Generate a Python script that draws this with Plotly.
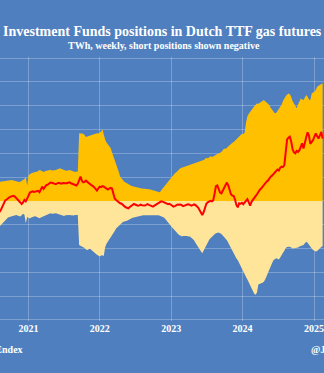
import pandas as pd
import plotly.graph_objects as go

# Weekly report dates (Fridays)
weeks = pd.date_range("2020-07-31", periods=238, freq="7D")

# Year ticks along the time axis
year_ticks = ["2021-01-01", "2022-01-01", "2023-01-01", "2024-01-01", "2025-01-01"]
year_labels = ["2021", "2022", "2023", "2024", "2025"]

# Investment funds long positions, TWh
long_twh = [
    80, 81, 83, 82, 84, 85, 84, 86, 88, 87,
    88, 86, 84, 82, 80, 79, 80, 84, 89, 92,
    100, 64, 108, 113, 116, 118, 119, 121, 123, 126,
    130, 128, 124, 122, 125, 127, 126, 129, 131, 128,
    127, 129, 130, 132, 135, 137, 134, 131, 129, 128,
    127, 129, 130, 128, 125, 123, 122, 124, 123, 284,
    283, 281, 282, 276, 269, 271, 273, 274, 275, 277,
    279, 281, 284, 283, 287, 291, 301, 275, 258, 245,
    238, 232, 222, 205, 190, 175, 158, 140, 122, 102,
    94, 87, 81, 77, 73, 70, 67, 64, 62, 60,
    58, 57, 55, 54, 53, 52, 52, 51, 50, 49,
    49, 48, 47, 46, 45, 44, 40, 37, 36, 45,
    52, 58, 66, 75, 82, 88, 96, 104, 112, 116,
    120, 126, 132, 137, 139, 141, 144, 146, 147, 149,
    150, 151, 154, 157, 159, 161, 163, 165, 167, 170,
    172, 176, 181, 178, 184, 188, 185, 186, 190, 194,
    196, 199, 202, 206, 214, 220, 218, 224, 230, 236,
    240, 244, 248, 254, 260, 266, 270, 274, 282, 280,
    288, 330, 356, 366, 375, 382, 390, 398, 404, 410,
    408, 411, 416, 420, 424, 418, 415, 408, 403, 392,
    382, 374, 368, 370, 378, 384, 396, 404, 420, 434,
    440, 446, 452, 448, 438, 420, 410, 396, 389, 405,
    416, 431, 426, 424, 435, 445, 438, 426, 424, 452,
    456, 459, 466, 480, 484, 487, 492, 495,
]

# Investment funds short positions, TWh (negative)
short_twh = [
    -112, -106, -98, -90, -84, -78, -73, -70, -68, -66,
    -67, -65, -62, -59, -61, -64, -66, -60, -54, -58,
    -94, -68, -72, -74, -70, -67, -66, -65, -68, -72,
    -73, -70, -67, -66, -64, -60, -58, -55, -52, -54,
    -55, -53, -52, -54, -57, -59, -62, -65, -64, -60,
    -59, -58, -59, -60, -62, -61, -59, -60, -59, -185,
    -188, -192, -193, -198, -204, -206, -203, -201, -206, -212,
    -216, -222, -226, -230, -234, -230, -229, -232, -195, -180,
    -172, -164, -155, -145, -136, -127, -116, -110, -104, -100,
    -94, -89, -87, -86, -84, -80, -76, -73, -71, -70,
    -68, -66, -65, -63, -62, -61, -60, -60, -59, -58,
    -58, -57, -58, -59, -58, -57, -58, -60, -62, -64,
    -66, -70, -76, -82, -88, -94, -104, -112, -118, -124,
    -134, -140, -143, -146, -150, -148, -147, -146, -148, -150,
    -150, -155, -160, -166, -176, -186, -198, -206, -212, -220,
    -208, -196, -184, -172, -164, -157, -150, -146, -140, -136,
    -134, -133, -136, -139, -146, -152, -160, -166, -176, -188,
    -198, -210, -221, -232, -242, -250, -262, -276, -290, -299,
    -310, -320, -330, -342, -358, -368, -380, -390, -395, -385,
    -352, -348, -346, -344, -340, -330, -315, -304, -290, -276,
    -262, -250, -244, -241, -243, -246, -238, -226, -218, -210,
    -198, -194, -192, -193, -196, -200, -199, -198, -199, -196,
    -192, -190, -186, -185, -178, -172, -176, -186, -192, -200,
    -206, -210, -213, -211, -204, -199, -194, -190,
]

# Net position, TWh
net_twh = [
    -50, -45, -35, -20, -8, 2, 6, 12, 15, 18,
    20, 21, 18, 12, 6, 2, -6, -13, -6, 4,
    -2, 8, 22, 35, 38, 40, 38, 40, 39, 42,
    36, 48, 60, 50, 58, 66, 68, 72, 77, 76,
    74, 72, 70, 74, 76, 74, 72, 75, 74, 72,
    74, 76, 78, 74, 72, 70, 67, 65, 72, 88,
    102, 85, 78, 80, 85, 80, 74, 70, 66, 62,
    58, 50, 43, 52, 60, 58, 62, 60, 56, 53,
    48, 52, 55, 52, 32, 10, 4, -2, -5, -10,
    -12, -18, -22, -27, -29, -31, -26, -20, -17, -13,
    -16, -18, -20, -19, -16, -18, -20, -19, -17, -14,
    -17, -20, -23, -24, -20, -16, -13, -8, -4, -2,
    -3, -6, -9, -12, -14, -12, -15, -20, -24, -22,
    -18, -15, -16, -15, -18, -22, -20, -16, -15, -14,
    -17, -20, -18, -15, -17, -22, -28, -38, -46, -59,
    -48, -28, -12, -6, -4, 0, -2, 2, 30, 62,
    65, 50, 35, 32, 45, 52, 68, 77, 65, 42,
    28, 22, 20, 5, -18, -27, -10, -12, -8, -14,
    -8, 0, 7, -6, -20, -4, 6, 12, 20, 28,
    39, 46, 52, 60, 67, 73, 81, 85, 95, 102,
    106, 112, 118, 124, 132, 128, 140, 144, 142, 150,
    200, 258, 266, 270, 250, 218, 204, 200, 210, 206,
    212, 230, 242, 220, 250, 268, 288, 275, 240, 248,
    256, 270, 284, 272, 262, 275, 290, 262,
]

BG = "#4f7fbe"
GRID = "rgba(255,255,255,0.25)"
FONT = "Liberation Serif"

fig = go.Figure()
fig.add_trace(go.Scatter(
    x=weeks, y=long_twh, mode="lines", line=dict(width=0, color="#ffc000"),
    fill="tozeroy", fillcolor="#ffc000", name="Long", hoverinfo="skip",
))
fig.add_trace(go.Scatter(
    x=weeks, y=short_twh, mode="lines", line=dict(width=0, color="#ffe599"),
    fill="tozeroy", fillcolor="#ffe599", name="Short", hoverinfo="skip",
))
fig.add_trace(go.Scatter(
    x=weeks, y=net_twh, mode="lines", line=dict(width=2, color="#ff0000"),
    name="Net", hoverinfo="skip",
))

PLOT_TOP, PLOT_BOT = 57, 321
PLOT_H = PLOT_BOT - PLOT_TOP


def ypaper(px):
    return (PLOT_BOT - px) / PLOT_H


fig.update_layout(
    width=324, height=373,
    margin=dict(l=0, r=0, t=PLOT_TOP, b=373 - PLOT_BOT, pad=0),
    paper_bgcolor=BG, plot_bgcolor=BG,
    showlegend=False,
    font=dict(family=FONT, color="white"),
    xaxis=dict(
        type="date", range=["2020-08-08", "2025-02-21"],
        tickmode="array", tickvals=year_ticks, ticktext=year_labels,
        ticklabeloverflow="allow",
        showgrid=True, gridcolor=GRID, gridwidth=1,
        zeroline=False, showline=False, ticks="",
        tickfont=dict(family=FONT, size=10, color="white", weight="bold"),
    ),
    yaxis=dict(
        range=[-505, 605], dtick=100, tick0=0,
        showgrid=True, gridcolor=GRID, gridwidth=1,
        zeroline=False, showline=False, showticklabels=False, ticks="",
    ),
    annotations=[
        dict(text="Investment Funds positions in Dutch TTF gas futures",
             xref="paper", yref="paper", x=0.503, y=ypaper(32),
             xanchor="center", yanchor="middle", showarrow=False,
             font=dict(family=FONT, size=14, color="white", weight="bold")),
        dict(text="TWh, weekly, short positions shown negative",
             xref="paper", yref="paper", x=0.505, y=ypaper(45),
             xanchor="center", yanchor="middle", showarrow=False,
             font=dict(family=FONT, size=10, color="white", weight="bold")),
        dict(text="Source: ICE Endex",
             xref="paper", yref="paper", x=25 / 324, y=ypaper(349),
             xanchor="right", yanchor="middle", showarrow=False,
             font=dict(family=FONT, size=10, color="white", weight="bold")),
        dict(text="@JKempEnergy",
             xref="paper", yref="paper", x=309 / 324, y=ypaper(349),
             xanchor="left", yanchor="middle", showarrow=False,
             font=dict(family=FONT, size=10, color="white", weight="bold")),
    ],
)

fig.write_html("out.html")
